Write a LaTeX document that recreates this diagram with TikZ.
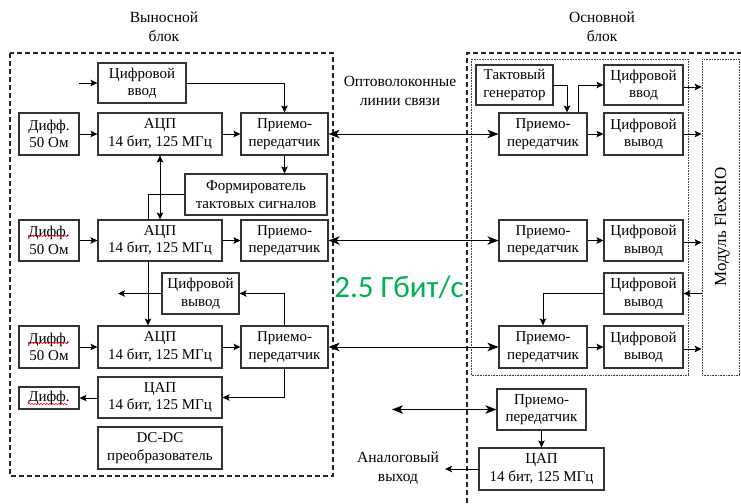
\documentclass[tikz,border=0pt]{standalone}
\usepackage{fontspec}
\setmainfont{Liberation Serif}
\newfontfamily\carl{Carlito}
\usetikzlibrary{arrows.meta,decorations.pathmorphing}
\definecolor{ogreen}{RGB}{0,176,80}
\begin{document}
\begin{tikzpicture}[x=1pt,y=-1pt,
  blk/.style={draw=black!80, line width=1.1pt, align=center, inner sep=0pt,
    font=\fontsize{15}{17.5}\selectfont, fill=white},
  lbl/.style={align=center, inner sep=0pt, font=\fontsize{15.5}{19}\selectfont},
  conn/.style={line width=1pt, -{Stealth[length=7pt,width=6.5pt,inset=1.5pt]}},
  bconn/.style={line width=1pt, {Stealth[length=11pt,width=8.5pt,inset=3pt]}-{Stealth[length=11pt,width=8.5pt,inset=3pt]}},
  plain/.style={line width=1pt},
  dashblk/.style={line width=1.2pt, dash pattern=on 5pt off 3pt, black!85},
  dotblk/.style={line width=0.7pt, dash pattern=on 0.8pt off 0.8pt, black!75},
  squig/.style={red, line width=0.5pt, decorate, decoration={snake, amplitude=0.7pt, segment length=3pt}}
]
\useasboundingbox (0,0) rectangle (741,503);

% block frames
\draw[dashblk] (10,53) rectangle (333,476);
\draw[dashblk] (467,503) -- (467,53) -- (741,53);
\draw[dotblk] (471,59) rectangle (688,375);
\node[draw, dotblk, minimum width=37pt, minimum height=316pt, inner sep=0pt] (flex) at (720.5,217) {};
\node[rotate=90, font=\fontsize{17}{20}\selectfont, inner sep=0pt] (flexlbl) at (722,227) {Модуль FlexRIO};

% titles
\node[lbl] (t1) at (164,27) {Выносной\\блок};
\node[lbl] (t2) at (602,27) {Основной\\блок};
\node[lbl] (t3) at (400,91) {Оптоволоконные\\линии связи};
\node[lbl] (t4) at (398,468) {Аналоговый\\выход};
\node[inner sep=0pt, font=\carl\fontsize{31}{31}\selectfont, text=ogreen] (rate) at (399,287) {2.5 Гбит/с};

% left block
\node[blk, minimum width=88pt, minimum height=40pt] (dinL) at (142,83) {Цифровой\\ввод};
\node[blk, minimum width=60pt, minimum height=42pt] (dif1) at (49,134) {Дифф.\\50 Ом};
\node[blk, minimum width=124pt, minimum height=42pt] (adc1) at (160,134) {АЦП\\14 бит, 125 МГц};
\node[blk, minimum width=87pt, minimum height=42pt] (tr1) at (284.5,134) {Приемо-\\передатчик};
\node[blk, minimum width=142pt, minimum height=41pt] (form) at (256,194.5) {Формирователь\\тактовых сигналов};
\node[blk, minimum width=60pt, minimum height=41pt] (dif2) at (49,240.5) {Дифф.\\50 Ом};
\node[blk, minimum width=124pt, minimum height=41pt] (adc2) at (160,240.5) {АЦП\\14 бит, 125 МГц};
\node[blk, minimum width=87pt, minimum height=41pt] (tr2) at (284.5,240.5) {Приемо-\\передатчик};
\node[blk, minimum width=77pt, minimum height=41pt] (doutL) at (200.5,293.5) {Цифровой\\вывод};
\node[blk, minimum width=60pt, minimum height=42pt] (dif3) at (49,347) {Дифф.\\50 Ом};
\node[blk, minimum width=124pt, minimum height=42pt] (adc3) at (160,347) {АЦП\\14 бит, 125 МГц};
\node[blk, minimum width=87pt, minimum height=42pt] (tr3) at (284.5,347) {Приемо-\\передатчик};
\node[blk, minimum width=124pt, minimum height=41pt] (dac) at (160,397.5) {ЦАП\\14 бит, 125 МГц};
\node[blk, minimum width=60pt, minimum height=22pt] (dif4) at (49,398) {Дифф.};
\node[blk, minimum width=124pt, minimum height=42pt] (dcdc) at (160,448) {DC-DC\\преобразователь};

% right block
\node[blk, minimum width=77pt, minimum height=40pt] (gen) at (514.5,85) {Тактовый\\генератор};
\node[blk, minimum width=79pt, minimum height=40pt] (dinR) at (643.5,85) {Цифровой\\ввод};
\node[blk, minimum width=88pt, minimum height=42pt] (trR1) at (543,134) {Приемо-\\передатчик};
\node[blk, minimum width=79pt, minimum height=42pt] (dout1) at (643.5,134) {Цифровой\\вывод};
\node[blk, minimum width=88pt, minimum height=41pt] (trR2) at (543,240.5) {Приемо-\\передатчик};
\node[blk, minimum width=79pt, minimum height=41pt] (dout2) at (643.5,240.5) {Цифровой\\вывод};
\node[blk, minimum width=79pt, minimum height=41pt] (dout3) at (643.5,293.5) {Цифровой\\вывод};
\node[blk, minimum width=88pt, minimum height=42pt] (trR3) at (543,347) {Приемо-\\передатчик};
\node[blk, minimum width=79pt, minimum height=42pt] (dout4) at (643.5,347) {Цифровой\\вывод};
\node[blk, minimum width=89pt, minimum height=41pt] (trR4) at (541.5,409.5) {Приемо-\\передатчик};
\node[blk, minimum width=125pt, minimum height=42pt] (dacR) at (541.5,469) {ЦАП\\14 бит, 125 МГц};

% free ends
\coordinate (inL) at (79,83);
\coordinate (outL) at (118,293.5);
\coordinate (optL4) at (392,409.5);
\coordinate (anOut) at (445,469);

% spell-check squiggles
\draw[squig] (28,236) -- (68,236);
\draw[squig] (28,343) -- (68,343);
\draw[squig] (28,404) -- (68,404);

% left connectors
\draw[conn] (inL) -- (dinL.west);
\draw[conn] (dinL.east) -| (tr1.north);
\draw[conn] (dif1) -- (adc1);
\draw[conn] (adc1) -- (tr1);
\draw[conn] (tr1.south) -- (tr1.south |- form.north);
\draw[line width=1pt, {Stealth[length=7pt,width=6.5pt,inset=1.5pt]}-{Stealth[length=7pt,width=6.5pt,inset=1.5pt]}] (adc1.south) -- (adc2.north);
\draw[plain] (form.west) -| ([xshift=-12pt]adc2.north);
\draw[conn] (dif2) -- (adc2);
\draw[conn] (adc2) -- (tr2);
\draw[conn] ([xshift=-12pt]adc2.south) -- ([xshift=-12pt]adc3.north);
\draw[conn] (doutL.west) -- (outL);
\draw[conn] (tr3.north) |- (doutL.east);
\draw[conn] (dif3) -- (adc3);
\draw[conn] (adc3) -- (tr3);
\draw[conn] (tr3.south) |- (dac.east);
\draw[conn] (dac.west |- dif4.east) -- (dif4.east);

% optical links
\draw[bconn] (tr1.east) -- (trR1.west);
\draw[bconn] (tr2.east) -- (trR2.west);
\draw[bconn] (tr3.east) -- (trR3.west);
\draw[bconn] (optL4) -- (trR4.west);

% right connectors
\draw[conn] (gen.east) -| ([xshift=24pt]trR1.north);
\draw[conn] ([xshift=35pt]trR1.north) |- (dinR.west);
\draw[conn] (trR1) -- (dout1);
\draw[conn] ([yshift=-2pt]dinR.east) -- ([yshift=-2pt]dinR.east -| flex.west);
\draw[conn] (dout1.east) -- (dout1.east -| flex.west);
\draw[conn] (trR2) -- (dout2);
\draw[conn] ([yshift=-2pt]dout2.east) -- ([yshift=-2pt]dout2.east -| flex.west);
\draw[conn] (dout3.east -| flex.west) -- (dout3.east);
\draw[conn] (dout3.west) -| (trR3.north);
\draw[conn] (trR3) -- (dout4);
\draw[conn] ([yshift=-2pt]dout4.east) -- ([yshift=-2pt]dout4.east -| flex.west);
\draw[conn] (trR4.south) -- (dacR.north);
\draw[conn] (dacR.west) -- (anOut);
\end{tikzpicture}
\end{document}
